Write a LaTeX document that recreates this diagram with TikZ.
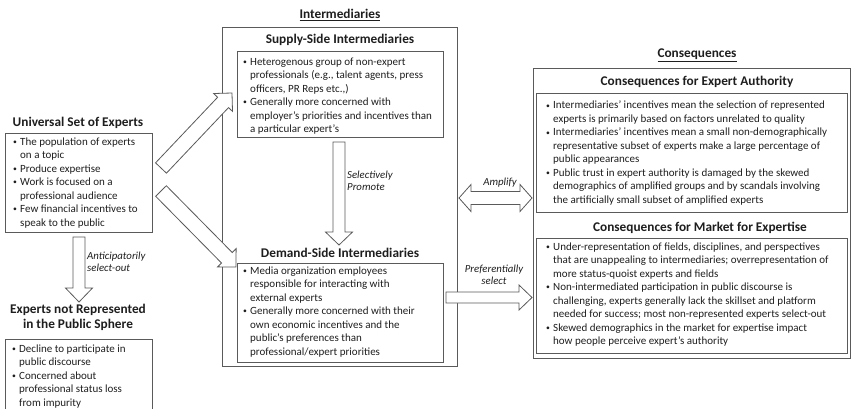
\documentclass[tikz,border=0pt]{standalone}
\usepackage{fontspec}
\setmainfont{Carlito}
\usetikzlibrary{calc}
\definecolor{ln}{HTML}{5A5A5A}
\definecolor{tx}{HTML}{1E1E1E}
\newcommand\bul{\makebox[7pt][l]{\raisebox{0.6pt}{\scalebox{0.7}{•}}}}
\newcommand\blist[1]{\begin{tabular}[t]{@{}l@{}l@{}}#1\end{tabular}}
\newcommand\blockarrow[5]{%
  \coordinate (bh) at ($(#2)!#5!(#1)$);
  \draw[arrowst] ($(#1)!#3!90:(#2)$) -- ($(bh)!#3!90:(#2)$) -- ($(bh)!#4!90:(#2)$) -- (#2)
    -- ($(bh)!#4!-90:(#2)$) -- ($(bh)!#3!-90:(#2)$) -- ($(#1)!#3!-90:(#2)$) -- cycle;}
\newcommand\dblarrow[5]{%
  \coordinate (bha) at ($(#1)!#5!(#2)$);
  \coordinate (bhb) at ($(#2)!#5!(#1)$);
  \draw[arrowst] (#1) -- ($(bha)!#4!90:(#2)$) -- ($(bha)!#3!90:(#2)$) -- ($(bhb)!#3!-90:(#1)$)
    -- ($(bhb)!#4!-90:(#1)$) -- (#2) -- ($(bhb)!#4!90:(#1)$) -- ($(bhb)!#3!90:(#1)$)
    -- ($(bha)!#3!-90:(#2)$) -- ($(bha)!#4!-90:(#2)$) -- cycle;}
\begin{document}
\begin{tikzpicture}[x=1pt,y=-1pt,
  boxst/.style={draw=ln, line width=0.8pt, inner sep=0, anchor=north west},
  title/.style={font=\fontsize{13.3}{15}\selectfont\bfseries, text=tx, inner sep=0},
  listst/.style={font=\fontsize{11}{13.5}\selectfont, text=tx, inner sep=0, anchor=base west},
  lab/.style={font=\fontsize{10.8}{12}\selectfont\itshape, text=tx, inner sep=0},
  arrowst/.style={draw=ln, line width=0.8pt, fill=white, line join=miter}]
\useasboundingbox (0,0) rectangle (851,408);

% boxes
\node[boxst, minimum width=147, minimum height=99] (U) at (5,133) {};
\node[boxst, minimum width=147, minimum height=78] (N) at (5,339) {};
\node[boxst, minimum width=235, minimum height=339] (I) at (222,27) {};
\node[boxst, minimum width=206, minimum height=86] (S) at (237,51) {};
\node[boxst, minimum width=206, minimum height=99] (D) at (237,263) {};
\node[boxst, minimum width=317, minimum height=290] (C) at (533,68) {};
\node[boxst, minimum width=311, minimum height=119] (A) at (536,93) {};
\node[boxst, minimum width=311, minimum height=115] (M) at (536,238) {};

% titles
\node[title] (tU) at (78,123) {Universal Set of Experts};
\node[title, align=center] (tN) at (78,317.5) {Experts not Represented\\in the Public Sphere};
\node[title] (tI) at (340,15) {\underline{Intermediaries}};
\node[title] (tS) at (340,40) {Supply-Side Intermediaries};
\node[title] (tD) at (340,253) {Demand-Side Intermediaries};
\node[title] (tC) at (697,55) {\underline{Consequences}};
\node[title] (tA) at (697,82) {Consequences for Expert Authority};
\node[title] (tM) at (700,228) {Consequences for Market for Expertise};

% lists
\node[listst] (xU) at (13,145) {\blist{%
\bul & The population of experts\\
 & on a topic\\
\bul & Produce expertise\\
\bul & Work is focused on a\\
 & professional audience\\
\bul & Few financial incentives to\\
 & speak to the public}};
\node[listst] (xN) at (12,352) {\blist{%
\bul & Decline to participate in\\
 & public discourse\\
\bul & Concerned about\\
 & professional status loss\\
 & from impurity}};
\node[listst] (xS) at (243,65) {\blist{%
\bul & Heterogenous group of non-expert\\
 & professionals (e.g., talent agents, press\\
 & officers, PR Reps etc.,)\\
\bul & Generally more concerned with\\
 & employer’s priorities and incentives than\\
 & a particular expert’s}};
\node[listst] (xD) at (243,274) {\blist{%
\bul & Media organization employees\\
 & responsible for interacting with\\
 & external experts\\
\bul & Generally more concerned with their\\
 & own economic incentives and the\\
 & public’s preferences than\\
 & professional/expert priorities}};
\node[listst] (xA) at (546,108.7) {\blist{%
\bul & Intermediaries’ incentives mean the selection of represented\\
 & experts is primarily based on factors unrelated to quality\\
\bul & Intermediaries’ incentives mean a small non-demographically\\
 & representative subset of experts make a large percentage of\\
 & public appearances\\
\bul & Public trust in expert authority is damaged by the skewed\\
 & demographics of amplified groups and by scandals involving\\
 & the artificially small subset of amplified experts}};
\node[listst] (xM) at (546,250) {\blist{%
\bul & Under-representation of fields, disciplines, and perspectives\\
 & that are unappealing to intermediaries; overrepresentation of\\
 & more status-quoist experts and fields\\
\bul & Non-intermediated participation in public discourse is\\
 & challenging, experts generally lack the skillset and platform\\
 & needed for success; most non-represented experts select-out\\
\bul & Skewed demographics in the market for expertise impact\\
 & how people perceive expert’s authority}};

% arrow end points
\coordinate (p1a) at (79,237);   \coordinate (p1b) at (79,302);
\coordinate (p2a) at (339,142);  \coordinate (p2b) at (339,245);
\coordinate (p3a) at (161,168);  \coordinate (p3b) at (232,93);
\coordinate (p4a) at (161,191);  \coordinate (p4b) at (236,267);
\coordinate (p5a) at (459,198);  \coordinate (p5b) at (532,198);
\coordinate (p6a) at (446,297.5);\coordinate (p6b) at (532,297.5);

\blockarrow{p1a}{p1b}{6pt}{13.5pt}{14pt}
\blockarrow{p2a}{p2b}{6pt}{13.5pt}{13pt}
\blockarrow{p3a}{p3b}{7.5pt}{13pt}{13pt}
\blockarrow{p4a}{p4b}{7.5pt}{13pt}{13pt}
\dblarrow{p5a}{p5b}{6.5pt}{13.5pt}{12pt}
\blockarrow{p6a}{p6b}{5.5pt}{12.5pt}{13pt}

% labels
\node[lab, anchor=west, align=left] (lA) at (87,262) {Anticipatorily\\select-out};
\node[lab, anchor=west, align=left] (lS) at (347,181) {Selectively\\Promote};
\node[lab] (lAm) at (500,183) {Amplify};
\node[lab, align=center] (lP) at (494,274.5) {Preferentially\\select};
\end{tikzpicture}
\end{document}
